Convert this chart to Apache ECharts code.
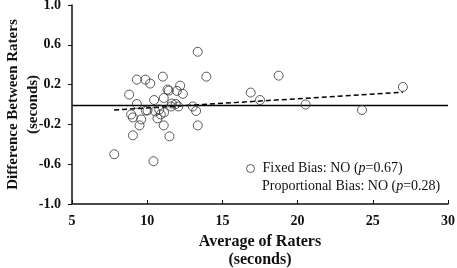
<!DOCTYPE html>
<html lang="en">
<head>
    <meta charset="UTF-8">
    <title>bland-altman</title>
    <script src="https://cdn.jsdelivr.net/npm/echarts@6/dist/echarts.min.js"></script>
    <style>
        html, body { margin: 0; padding: 0; background: #fff; }
        #box { width: 457px; height: 268px; }
    </style>
</head>
<body>
    <div id="box"></div>
    <script>
        // average of raters (x) and difference between raters (y)
        var points = [
            [7.81, -0.50], [8.80, 0.10], [8.93, -0.10], [9.05, -0.13], [9.05, -0.31],
            [9.31, 0.25], [9.31, 0.005], [9.49, -0.21], [9.60, -0.15], [9.88, 0.25],
            [9.91, -0.06], [10.02, -0.06], [10.20, 0.21], [10.42, -0.57], [10.46, 0.045],
            [10.53, -0.07], [10.68, -0.14], [10.80, -0.05], [10.90, -0.10], [11.04, 0.28],
            [11.10, 0.065], [11.10, -0.21], [11.12, -0.08], [11.35, 0.15], [11.44, 0.14],
            [11.48, -0.32], [11.59, -0.02], [11.64, 0.01], [11.90, 0.005], [11.97, 0.137],
            [12.07, -0.02], [12.19, 0.19], [12.37, 0.107], [13.03, -0.02], [13.25, -0.065],
            [13.36, 0.53], [13.36, -0.21], [13.93, 0.28], [16.88, 0.12], [17.50, 0.045],
            [18.74, 0.29], [20.53, 0.0], [24.28, -0.055], [27.00, 0.176]
        ];
        var meanLine = [[5, -0.01], [30, -0.01]];
        var trendLine = [[7.8, -0.055], [27.0, 0.123]];
        var fixedBias = ['Fixed Bias: NO (', '=0.67)'];
        var propBias = ['Proportional Bias: NO (', '=0.28)'];

        var serif = 'Liberation Serif';
        var txt = { fontFamily: serif, fontSize: 14, color: '#111', lineHeight: 17 };
        var richText = {
            n: txt,
            i: { fontFamily: serif, fontSize: 14, color: '#111', lineHeight: 17, fontStyle: 'italic' }
        };
        var myChart = echarts.init(document.getElementById('box'));
        var option = {
            animation: false,
            backgroundColor: '#fff',
            grid: { left: 72, right: 9, top: 5, bottom: 64, containLabel: false, outerBoundsMode: 'none' },
            legend: {
                left: 246,
                top: 160,
                padding: 0,
                icon: 'circle',
                itemWidth: 8,
                itemHeight: 8,
                itemStyle: { color: '#fff', borderColor: '#333', borderWidth: 1 },
                data: ['bias'],
                formatter: function () {
                    return '{n|' + fixedBias[0] + '}{i|p}{n|' + fixedBias[1] + '}';
                },
                textStyle: {
                    fontFamily: serif, fontSize: 14, color: '#111', lineHeight: 17,
                    padding: [0, 0, 0, 3],
                    rich: richText
                }
            },
            // second line of the note sits under the legend entry
            title: {
                left: 262,
                top: 178,
                padding: 0,
                text: '{n|' + propBias[0] + '}{i|p}{n|' + propBias[1] + '}',
                textStyle: { fontFamily: serif, fontSize: 14, fontWeight: 'normal', color: '#111', lineHeight: 17, rich: richText }
            },
            xAxis: {
                type: 'value',
                min: 5,
                max: 30,
                interval: 5,
                name: 'Average of Raters\n(seconds)',
                nameLocation: 'middle',
                nameGap: 29,
                nameTextStyle: { fontFamily: serif, fontWeight: 'bold', fontSize: 16, color: '#111', lineHeight: 18 },
                axisLine: { onZero: false, lineStyle: { color: '#111', width: 1.5 } },
                axisTick: { inside: true, length: 4, lineStyle: { color: '#111' } },
                axisLabel: { fontFamily: serif, fontWeight: 'bold', fontSize: 14, color: '#111', margin: 10 },
                splitLine: { show: false }
            },
            yAxis: {
                type: 'value',
                min: -1,
                max: 1,
                interval: 0.4,
                name: 'Difference Between Raters\n(seconds)',
                nameLocation: 'middle',
                nameGap: 29,
                nameMoveOverlap: false,
                nameTextStyle: { fontFamily: serif, fontWeight: 'bold', fontSize: 15, color: '#111', lineHeight: 20 },
                axisLine: { show: true, onZero: false, lineStyle: { color: '#111', width: 1.5 } },
                axisTick: { show: true, length: 4, lineStyle: { color: '#111' } },
                axisLabel: {
                    fontFamily: serif, fontWeight: 'bold', fontSize: 14, color: '#111', margin: 11,
                    formatter: function (v) { return (Math.abs(v) < 1e-9 ? 0 : v).toFixed(1); }
                },
                splitLine: { show: false }
            },
            series: [
                {
                    name: 'mean',
                    type: 'line',
                    data: meanLine,
                    symbol: 'none',
                    lineStyle: { color: '#000', width: 1.5 },
                    z: 1
                },
                {
                    name: 'trend',
                    type: 'line',
                    data: trendLine,
                    symbol: 'none',
                    lineStyle: { color: '#000', width: 1.5, type: [5, 3] },
                    z: 2
                },
                {
                    name: 'bias',
                    type: 'scatter',
                    data: points,
                    symbol: 'circle',
                    symbolSize: 9,
                    itemStyle: { color: 'rgba(0,0,0,0)', borderColor: '#333', borderWidth: 1 },
                    z: 3
                }
            ]
        };
        myChart.setOption(option);
    </script>
</body>
</html>
